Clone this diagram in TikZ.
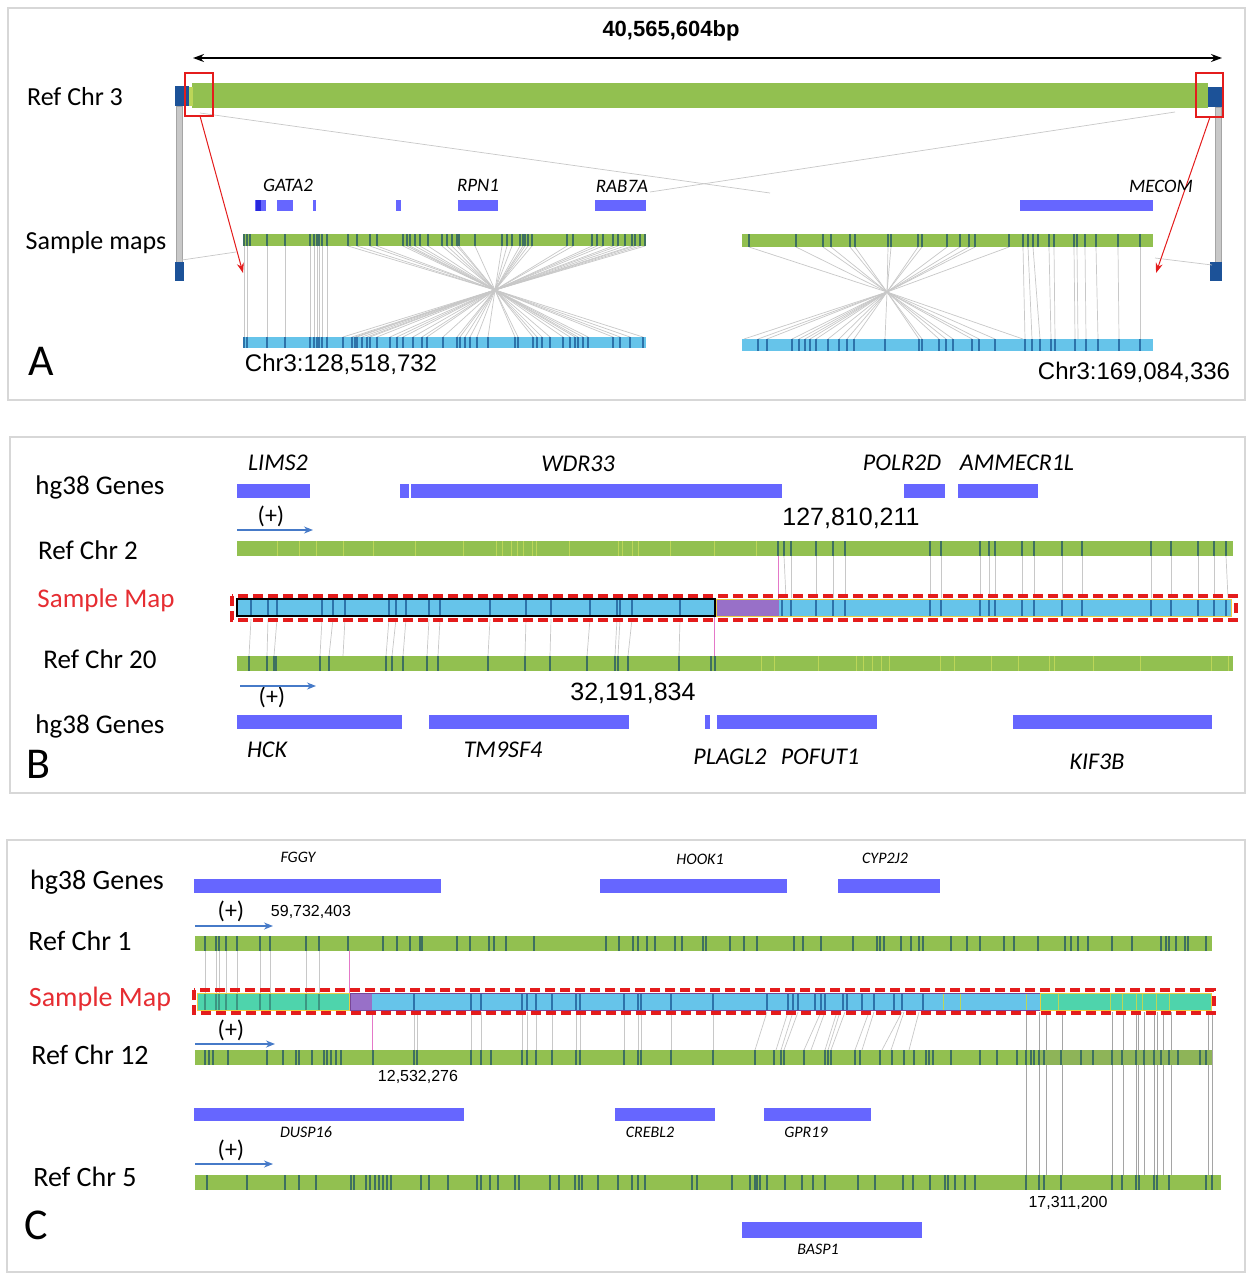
\documentclass[tikz,border=0pt]{standalone}
\usepackage{fontspec}
\setmainfont{Carlito}
\newfontfamily\arialf{Liberation Sans}
\usetikzlibrary{arrows.meta}
\definecolor{grn}{RGB}{146,192,80}
\definecolor{grntk}{RGB}{62,112,96}
\definecolor{ylwtk}{RGB}{188,214,88}
\definecolor{smpl}{RGB}{102,196,234}
\definecolor{smpltk}{RGB}{45,115,170}
\definecolor{genec}{RGB}{102,102,255}
\definecolor{genedk}{RGB}{40,40,220}
\definecolor{dkblue}{RGB}{28,82,152}
\definecolor{mint}{RGB}{78,212,172}
\definecolor{minttk}{RGB}{60,150,130}
\definecolor{purp}{RGB}{152,112,200}
\definecolor{lgray}{RGB}{200,200,200}
\definecolor{mgray}{RGB}{165,165,165}
\definecolor{pinkc}{RGB}{228,120,200}
\definecolor{redc}{RGB}{228,28,28}
\definecolor{labred}{RGB}{230,45,50}
\definecolor{arrblue}{RGB}{70,122,200}
\definecolor{frame}{RGB}{215,215,215}
\definecolor{yelb}{RGB}{235,205,65}
\definecolor{purpb}{RGB}{120,70,150}
\newcommand{\mytk}[4]{\foreach \xx in {#4} \draw[#3] (\xx,#1)--(\xx,#2);}
\begin{document}
\begin{tikzpicture}[x=1pt,y=-1pt,
  lab/.style={inner sep=0pt,anchor=center,font=\fontsize{26}{30}\selectfont},
  labB/.style={lab,font=\fontsize{27}{31}\selectfont},
  labC/.style={lab,font=\fontsize{28}{32}\selectfont},
  panl/.style={inner sep=0pt,font=\fontsize{44}{48}\selectfont},
  genA/.style={inner sep=0pt,font=\itshape\fontsize{19}{22}\selectfont},
  genB/.style={inner sep=0pt,font=\itshape\fontsize{24}{28}\selectfont},
  genC/.style={inner sep=0pt,font=\itshape\fontsize{16}{19}\selectfont},
  numA/.style={inner sep=0pt,font=\arialf\fontsize{24}{28}\selectfont},
  numB/.style={inner sep=0pt,font=\arialf\fontsize{25}{29}\selectfont},
  numC/.style={inner sep=0pt,font=\arialf\fontsize{16}{19}\selectfont},
  plus/.style={inner sep=0pt,font=\fontsize{24}{28}\selectfont},
  strand/.style={arrblue,line width=1.3pt,-{Stealth[length=9pt,width=7pt]}},
  gtk/.style={grntk,line width=1.4pt},
  ytk/.style={ylwtk,line width=1pt},
  btk/.style={smpltk,line width=1.1pt},
  mtk/.style={minttk,line width=1.1pt},
  aln/.style={lgray,line width=0.7pt},
  alnd/.style={mgray,line width=0.8pt},
  pinkln/.style={pinkc,line width=1pt},
  redbox/.style={redc,line width=3.5pt,dash pattern=on 10pt off 5pt},
  panelframe/.style={draw=frame,line width=1.2pt}]
\useasboundingbox (0,0) rectangle (1251,1280);
\fill[white] (0,0) rectangle (1251,1280);

% ================= Panel frames
\draw[panelframe] (8,8) rectangle (1245,400);
\draw[panelframe] (10,437) rectangle (1245,793);
\draw[panelframe] (7,840) rectangle (1245,1272);

% ================= PANEL A
\coordinate (tl) at (193,58);
\coordinate (tr) at (1222,58);
\draw[line width=1.6pt,{Stealth[length=11pt,width=8pt]}-{Stealth[length=11pt,width=8pt]}] (tl) -- (tr);
\node[inner sep=0pt,font=\arialf\bfseries\fontsize{22}{26}\selectfont] (tlen) at (671,31) {40,565,604bp};
\node[lab] (lrefA) at (75,97) {Ref Chr 3};
\node[lab] (lsmpA) at (96,243) {Sample maps};
\node[panl] (pA) at (41,361) {A};

% grey vertical bars
\filldraw[fill=lgray,draw=mgray,line width=0.6pt] (176,106) rectangle (182,262);
\filldraw[fill=lgray,draw=mgray,line width=0.6pt] (1215,107) rectangle (1221,262);
% chr3 bar
\fill[grn] (192,83) rectangle (1208,108);
\fill[dkblue] (175,86) rectangle (189,106);
\fill[ylwtk] (189,87) rectangle (193,106);
\fill[dkblue] (1208,87) rectangle (1222,107);
\fill[dkblue] (175,262) rectangle (184,281);
\fill[dkblue] (1210,262) rectangle (1222,281);
% long grey lines
\draw[aln] (200,113) -- (770,193);
\draw[aln] (1175,112) -- (650,192);
\draw[aln] (182,260) -- (236,252);
\draw[aln] (1155,258) -- (1212,265);
% red boxes
\draw[redc,line width=1.2pt] (185,73) rectangle (213,116);
\draw[redc,line width=1.2pt] (1196,73) rectangle (1223,117);
\coordinate (rl1) at (200,116);
\coordinate (rl2) at (243,273);
\coordinate (rr1) at (1210,117);
\coordinate (rr2) at (1156,273);
\draw[redc,line width=1pt,-{Stealth[length=10pt,width=7pt]}] (rl1) -- (rl2);
\draw[redc,line width=1pt,-{Stealth[length=10pt,width=7pt]}] (rr1) -- (rr2);

% genes A
\fill[genec] (255,200) rectangle (266,211);
\fill[genedk] (256,200) rectangle (261,211);
\fill[genec] (277,200) rectangle (293,211);
\fill[genec] (313,200) rectangle (316,211);
\fill[genec] (396,200) rectangle (401,211);
\fill[genec] (458,200) rectangle (498,211);
\fill[genec] (595,200) rectangle (646,211);
\fill[genec] (1020,200) rectangle (1153,211);
\node[genA] (gGATA) at (288,185) {GATA2};
\node[genA] (gRPN) at (478,185) {RPN1};
\node[genA] (gRAB) at (622,186) {RAB7A};
\node[genA] (gMEC) at (1161,186) {MECOM};

% left sample
\coordinate (cL) at (495,290);
\foreach \g in {348,357,370,377,403,407,410,415,420,428,442,447,452,457,459,475,502,507,512,520,523,525,528,532,567,573,592,597,603,613,618,625,632,635,640,645}
  \draw[aln] (\g,246) -- (cL);
\foreach \b in {343,352,355,357,362,367,370,377,390,397,403,413,422,427,443,457,460,465,470,477,488,515,518,533,537,542,550,563,570,575,578,583,588,613,620,630,643}
  \draw[aln] (cL) -- (\b,337);
\mytk{246}{337}{aln}{244,247,267,285,310,314,317,319,322,327}
\fill[grn] (243,234) rectangle (646,246);
\mytk{234}{246}{gtk}{244,247,250,267,285,310,314,317,319,322,327,348,357,370,377,403,407,410,415,420,428,442,447,452,457,459,475,502,507,512,520,523,525,528,532,567,573,592,597,603,613,618,625,632,635,640,645}
\fill[smpl] (243,337) rectangle (646,348);
\mytk{337}{348}{btk}{244,247,267,285,310,314,317,319,322,327,343,352,355,357,362,367,370,377,390,397,403,413,422,427,443,457,460,465,470,477,488,515,518,533,537,542,550,563,570,575,578,583,588,613,620,630,643}

% right sample
\coordinate (cR) at (887,292);
\foreach \g in {749,796,823,831,850,855,888,891,918,922,947,960,969,975,1009}
  \draw[aln] (\g,247) -- (cR);
\foreach \b in {744,758,767,792,799,805,810,816,828,839,847,854,885,919,922,939,946,953,972,979,995,1023}
  \draw[aln] (cR) -- (\b,339);
\foreach \a/\b in {1023/1025,1028/1032,1033/1040,1049/1051,1054/1055,1074/1075,1077/1078,1085/1086,1096/1098,1118/1119,1140/1140}
  \draw[aln] (\a,247) -- (\b,339);
\fill[grn] (742,234) rectangle (1153,247);
\mytk{234}{247}{gtk}{749,796,823,831,850,855,888,891,918,922,947,960,969,975,1009,1023,1028,1033,1038,1049,1054,1074,1077,1085,1096,1118,1140}
\fill[smpl] (742,339) rectangle (1153,351);
\mytk{339}{351}{btk}{758,767,792,799,805,810,816,828,839,847,854,885,919,922,939,946,953,972,979,995,1025,1032,1040,1051,1055,1075,1086,1098,1119,1140}

\node[numA] (pos1) at (341,364) {Chr3:128,518,732};
\node[numA] (pos2) at (1134,372) {Chr3:169,084,336};

% ================= PANEL B
\node[labB] (lgB1) at (100,487) {hg38 Genes};
\node[labB] (lrB2) at (88,550) {Ref Chr 2};
\node[labB,text=labred] (lsB) at (106,600) {Sample Map};
\node[labB] (lrB20) at (100,659) {Ref Chr 20};
\node[labB] (lgB2) at (100,726) {hg38 Genes};
\node[panl] (pB) at (38,764) {B};

\fill[genec] (237,484) rectangle (310,498);
\fill[genec] (400,484) rectangle (409,498);
\fill[genec] (411,484) rectangle (782,498);
\fill[genec] (904,484) rectangle (945,498);
\fill[genec] (958,484) rectangle (1038,498);
\node[genB] (gLIMS) at (278,463) {LIMS2};
\node[genB] (gWDR) at (578,464) {WDR33};
\node[genB] (gPOLR) at (902,463) {POLR2D};
\node[genB] (gAMM) at (1017,463) {AMMECR1L};

\node[plus] (plB1) at (271,516) {(+)};
\coordinate (sB1a) at (237,530);
\coordinate (sB1b) at (313,530);
\draw[strand] (sB1a) -- (sB1b);
\node[numB] (nB1) at (851,518) {127,810,211};

% chr2 bar
\fill[grn] (237,541) rectangle (1233,556);
\mytk{541}{556}{ytk}{277,299,316,343,373,415,463,496,502,511,517,523,532,536,569,618,622,632,638,670,714,756}
\mytk{541}{556}{gtk}{778,784,791,816,833,845,930,941,980,989,995,1022,1034,1062,1082,1151,1171,1198,1214,1226}
% chr2 -> sample lines
\foreach \a/\b in {784/786,791/791,816/816,833/833,845/845,930/930,941/941,980/980,989/989,995/995,1022/1022,1034/1034,1062/1062,1082/1082,1151/1151,1171/1171,1198/1198,1214/1214,1226/1228}
  \draw[aln] (\a,556) -- (\b,598);
\draw[pinkln] (778,556) -- (778,599);
% sample -> chr20 lines
\foreach \a/\b in {251/249,268/267,277/274,322/320,333/329,345/343,389/386,396/392,406/403,429/427,440/438,490/488,526/525,551/550,590/587,617/615,620/618,632/628,680/679}
  \draw[aln] (\a,619) -- (\b,656);
\draw[pinkln] (714,616) -- (714,656);
% sample map
\fill[smpl] (237,599) rectangle (715,616);
\mytk{599}{616}{btk}{251,268,277,322,333,345,389,396,406,429,440,490,526,551,590,617,620,632,680}
\draw[black,line width=1.6pt] (237,599) rectangle (715,616);
\fill[purp] (716,599) rectangle (779,616);
\fill[smpl] (779,599) rectangle (1231,616);
\mytk{599}{616}{btk}{782,791,816,833,845,930,941,980,989,995,1022,1034,1062,1082,1151,1171,1198,1214,1226}
\draw[yelb,line width=0.9pt] (716,599) rectangle (1231,616);
\draw[redbox] (232,596) rectangle (1236,620);

% chr20 bar
\fill[grn] (237,656) rectangle (1233,671);
\mytk{656}{671}{ytk}{761,774,818,856,863,872,881,889,940,954,991,1018,1049,1054,1093,1140,1211,1228}
\mytk{656}{671}{gtk}{249,267,274,276,320,329,386,392,403,427,438,488,525,550,587,615,618,628,679,711,715}

\node[plus] (plB2) at (272,697) {(+)};
\coordinate (sB2a) at (240,686);
\coordinate (sB2b) at (316,686);
\draw[strand] (sB2a) -- (sB2b);
\node[numB] (nB2) at (633,693) {32,191,834};

\fill[genec] (237,715) rectangle (402,729);
\fill[genec] (429,715) rectangle (629,729);
\fill[genec] (705,715) rectangle (710,729);
\fill[genec] (717,715) rectangle (877,729);
\fill[genec] (1013,715) rectangle (1212,729);
\node[genB] (gHCK) at (267,750) {HCK};
\node[genB] (gTM9) at (503,750) {TM9SF4};
\node[genB] (gPLA) at (730,757) {PLAGL2};
\node[genB] (gPOF) at (820,757) {POFUT1};
\node[genB] (gKIF) at (1097,762) {KIF3B};

% ================= PANEL C
\node[labC] (lgC) at (97,882) {hg38 Genes};
\node[labC] (lrC1) at (80,941) {Ref Chr 1};
\node[labC,text=labred] (lsC) at (100,999) {Sample Map};
\node[labC] (lrC12) at (90,1055) {Ref Chr 12};
\node[labC] (lrC5) at (85,1177) {Ref Chr 5};
\node[panl] (pC) at (36,1225) {C};

\fill[genec] (194,879) rectangle (441,893);
\fill[genec] (600,879) rectangle (787,893);
\fill[genec] (838,879) rectangle (940,893);
\node[genC] (gFGGY) at (298,857) {FGGY};
\node[genC] (gHOOK) at (700,859) {HOOK1};
\node[genC] (gCYP) at (885,858) {CYP2J2};

\node[plus] (plC1) at (231,911) {(+)};
\coordinate (sC1a) at (195,926);
\coordinate (sC1b) at (273,926);
\draw[strand] (sC1a) -- (sC1b);
\node[numC] (nC1) at (311,912) {59,732,403};

% chr1 bar
\fill[grn] (195,936) rectangle (1212,951);
\mytk{936}{951}{gtk}{205,216,219,226,237,260,270,306,319,348,383,397,410,420,422,457,470,489,494,506,534,606,619,633,638,647,655,675,682,703,706,730,744,757,794,803,821,853,877,880,884,901,911,919,923,951,967,980,1004,1014,1038,1065,1071,1078,1088,1112,1132,1161,1166,1169,1176,1185,1188,1206}
\mytk{951}{993}{aln}{205,216,219,226,237,260,270,306,319}
\draw[pinkln] (349,951) -- (349,993);

% sample -> chr12 lines
\mytk{1012}{1050}{aln}{414,417,471,481,522,527,536,552,576,580,624,638,641,671,713}
\foreach \a/\b in {767/755,788/776,793/781,798/784,821/804,825/811,837/825,840/828,845/831,869/855,874/862,902/882,904/891,919/909}
  \draw[aln] (\a,1012) -- (\b,1050);
\draw[pinkln] (372,1010) -- (372,1050);
\mytk{1012}{1175}{alnd}{1026,1039,1046,1062,1112,1123,1136,1138,1144,1154,1157,1163,1171,1208,1212}

% sample map C
\fill[mint] (197,993) rectangle (349,1010);
\mytk{993}{1010}{mtk}{205,216,219,226,237,260,270,306,319}
\draw[yelb,line width=0.9pt] (197,993) rectangle (349,1010);
\fill[purp] (350,993) rectangle (372,1010);
\fill[smpl] (372,993) rectangle (1040,1010);
\mytk{993}{1010}{btk}{414,471,481,522,527,536,552,576,580,624,638,641,671,713,767,788,793,798,815,821,825,843,847,862,874,894,902,923}
\mytk{993}{1010}{ytk}{943,960,1026}
\draw[purpb,line width=0.9pt] (350,993) rectangle (1040,1010);
\fill[mint] (1040,993) rectangle (1211,1010);
\mytk{993}{1010}{ytk}{1058,1110,1122,1136,1142,1156,1169}
\draw[yelb,line width=0.9pt] (1040,993) rectangle (1211,1010);
\draw[redbox] (194,990) rectangle (1214,1013);

\node[plus] (plC2) at (231,1030) {(+)};
\coordinate (sC2a) at (195,1044);
\coordinate (sC2b) at (275,1044);
\draw[strand] (sC2a) -- (sC2b);

% chr12 bar
\fill[grn] (195,1050) rectangle (1212,1065);
\fill[gray,opacity=0.18] (1040,1050) rectangle (1212,1065);
\mytk{1050}{1065}{gtk}{205,209,213,228,267,283,296,299,312,324,327,331,336,341,373,414,417,471,481,491,522,527,536,552,576,580,624,638,641,671,713,755,774,781,784,804,825,828,831,855,860,880,892,904,914,926,929,933,951,980,997,1017,1026,1031,1034,1039,1044,1061,1081,1093,1112,1122,1136,1144,1154,1161,1169,1178,1200,1206}
\node[numC] (nC2) at (418,1077) {12,532,276};

\fill[genec] (194,1108) rectangle (464,1121);
\fill[genec] (615,1108) rectangle (715,1121);
\fill[genec] (764,1108) rectangle (871,1121);
\node[genC] (gDUSP) at (306,1132) {DUSP16};
\node[genC] (gCREB) at (650,1132) {CREBL2};
\node[genC] (gGPR) at (806,1132) {GPR19};

\node[plus] (plC3) at (231,1150) {(+)};
\coordinate (sC3a) at (195,1164);
\coordinate (sC3b) at (273,1164);
\draw[strand] (sC3a) -- (sC3b);

% chr5 bar
\fill[grn] (195,1175) rectangle (1221,1190);
\mytk{1175}{1190}{gtk}{207,247,285,299,316,351,354,366,370,375,379,383,387,391,421,429,448,477,481,490,498,515,519,550,559,575,579,582,598,618,632,638,645,692,697,732,750,755,757,760,767,785,802,813,825,858,875,903,913,930,945,948,955,965,975,1026,1039,1044,1061,1112,1122,1136,1139,1154,1157,1169,1206,1212}
\node[numC] (nC3) at (1068,1203) {17,311,200};

\fill[genec] (742,1222) rectangle (922,1238);
\node[genC] (gBASP) at (818,1249) {BASP1};
\end{tikzpicture}
\end{document}
